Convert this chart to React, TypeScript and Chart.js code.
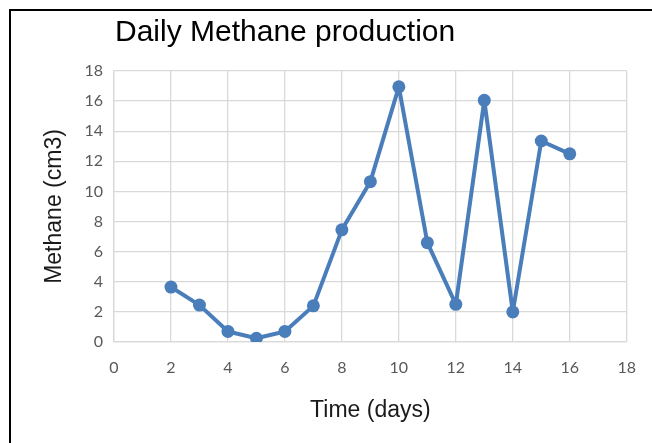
import React, { useEffect, useRef } from "react";
import { Chart, registerables } from "chart.js";

Chart.register(...registerables);

const chartTitle = "Daily Methane production";
const xAxisTitle = "Time (days)";
const yAxisTitle = "Methane (cm3)";
const days = [2, 3, 4, 5, 6, 7, 8, 9, 10, 11, 12, 13, 14, 15, 16];
const methane = [3.65, 2.45, 0.7, 0.25, 0.7, 2.4, 7.45, 10.65, 16.95, 6.6, 2.5, 16.05, 2.0, 13.35, 12.5];
const xMin = 0;
const xMax = 18;
const yMin = 0;
const yMax = 18;
const tickStep = 2;

const titlePlugin = {
  id: "leftTitle",
  afterDraw(chart: any) {
    const ctx = chart.ctx;
    ctx.save();
    ctx.font = '30px "Liberation Sans", Arial, sans-serif';
    ctx.fillStyle = "#000000";
    ctx.textAlign = "left";
    ctx.textBaseline = "middle";
    ctx.fillText(chartTitle, chart.chartArea.left + 1, 22);
    ctx.restore();
  },
};

export default function App() {
  const ref = useRef<HTMLCanvasElement>(null);
  useEffect(() => {
    if (!ref.current) return;
    const gridColor = "#d9d9d9";
    const chart = new Chart(ref.current, {
      type: "line",
      data: {
        datasets: [
          {
            data: days.map((d, i) => ({ x: d, y: methane[i] })),
            borderColor: "#4a7ebb",
            backgroundColor: "#4a7ebb",
            borderWidth: 4,
            borderJoinStyle: "round",
            borderCapStyle: "round",
            pointRadius: 6.5,
            pointBorderWidth: 0,
            pointBackgroundColor: "#4a7ebb",
            tension: 0,
            fill: false,
          },
        ],
      },
      options: {
        animation: false,
        responsive: false,
        maintainAspectRatio: false,
        layout: { padding: { left: 26, right: 23, top: 60, bottom: 15 } },
        plugins: {
          legend: { display: false },
          tooltip: { enabled: false },
          title: { display: false },
        },
        scales: {
          x: {
            type: "linear",
            min: xMin,
            max: xMax,
            ticks: {
              stepSize: tickStep,
              padding: 16,
              color: "#595959",
              font: { family: "Lato, 'Liberation Sans', sans-serif", size: 16 },
              maxRotation: 0,
            },
            grid: { color: gridColor, lineWidth: 1.3, drawTicks: false },
            border: { color: gridColor, width: 1.3 },
            title: {
              display: true,
              text: xAxisTitle,
              color: "#1a1a1a",
              font: { family: "'Liberation Sans', Arial, sans-serif", size: 23 },
            },
            afterFit(scale: any) {
              scale.height = 86;
            },
          },
          y: {
            type: "linear",
            min: yMin,
            max: yMax,
            ticks: {
              stepSize: tickStep,
              padding: 11,
              color: "#595959",
              font: { family: "Lato, 'Liberation Sans', sans-serif", size: 16 },
            },
            grid: { color: gridColor, lineWidth: 1.3, drawTicks: false },
            border: { color: gridColor, width: 1.3 },
            title: {
              display: true,
              text: yAxisTitle,
              color: "#1a1a1a",
              font: { family: "'Liberation Sans', Arial, sans-serif", size: 23 },
            },
            afterFit(scale: any) {
              scale.width = 77;
            },
          },
        },
      },
      plugins: [titlePlugin],
    });
    return () => chart.destroy();
  }, []);

  return (
    <div
      style={{
        position: "absolute",
        left: 9,
        top: 9,
        width: 643,
        height: 434,
        borderLeft: "2px solid #000",
        borderTop: "2px solid #000",
        background: "#fff",
        overflow: "hidden",
      }}
    >
      <canvas ref={ref} width={641} height={432} style={{ display: "block" }} />
    </div>
  );
}
